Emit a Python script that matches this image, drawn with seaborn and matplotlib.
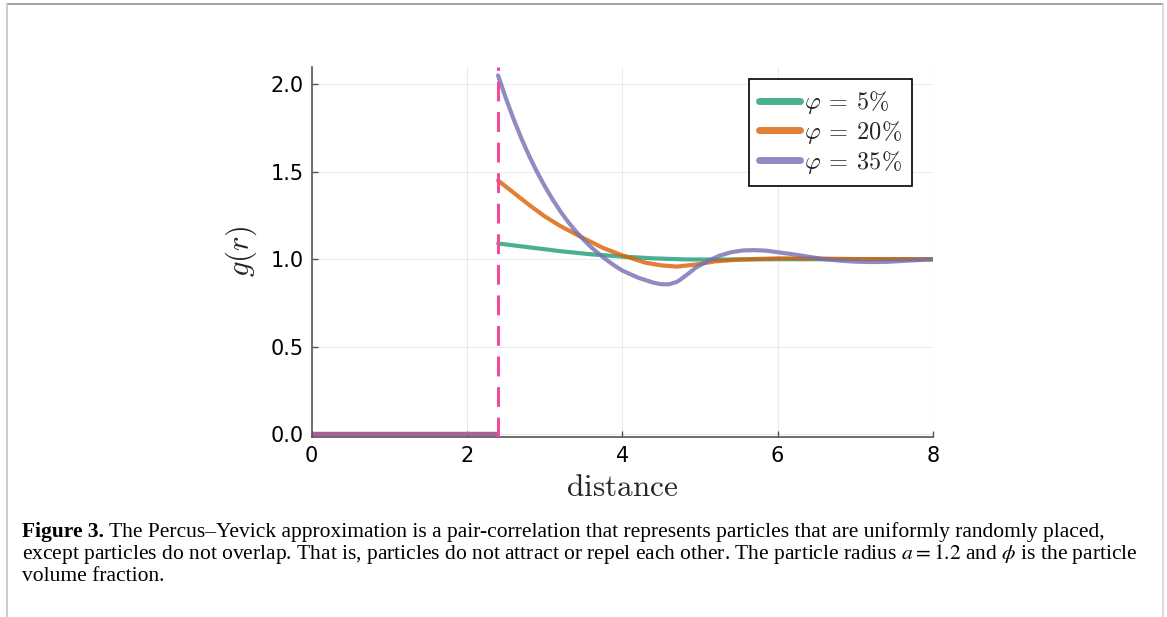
import numpy as np
import pandas as pd
import matplotlib
matplotlib.use("Agg")
import matplotlib.pyplot as plt
import seaborn as sns
from matplotlib.lines import Line2D

# ---------------- data ----------------
contact = 2.4  # 2a, a = 1.2
r_zero = [0.0, 2.4]
g_zero = [0.0, 0.0]

r_5 = [2.4, 2.8, 3.2, 3.6, 4.0, 4.4, 4.8, 5.2, 6.0, 7.0, 8.0]
g_5 = [1.09, 1.068, 1.046, 1.028, 1.015, 1.005, 0.999, 0.998, 1.0, 1.0, 1.0]

r_20 = [2.4, 2.6, 2.8, 3.0, 3.2, 3.5, 3.75, 4.0, 4.3, 4.5, 4.7, 4.95, 5.2, 5.5,
        6.0, 6.5, 7.0, 8.0]
g_20 = [1.45, 1.38, 1.31, 1.245, 1.19, 1.12, 1.065, 1.022, 0.98, 0.965, 0.958,
        0.97, 0.988, 0.998, 1.005, 1.004, 1.001, 1.0]

r_35 = [2.4, 2.5, 2.6, 2.7, 2.8, 2.9, 3.0, 3.1, 3.2, 3.3, 3.4, 3.5, 3.6, 3.7,
        3.8, 3.9, 4.0, 4.2, 4.4, 4.5, 4.6, 4.7, 4.75, 4.85, 4.95, 5.1, 5.25,
        5.4, 5.55, 5.7, 5.85, 6.0, 6.2, 6.4, 6.6, 6.8, 7.0, 7.2, 7.4, 7.6, 7.8,
        8.0]
g_35 = [2.05, 1.92, 1.80, 1.69, 1.59, 1.50, 1.418, 1.343, 1.275, 1.214, 1.16,
        1.112, 1.068, 1.03, 0.995, 0.963, 0.935, 0.895, 0.866, 0.857, 0.857,
        0.87, 0.884, 0.918, 0.953, 0.99, 1.02, 1.04, 1.05, 1.052, 1.049, 1.04,
        1.028, 1.014, 1.0, 0.992, 0.986, 0.984, 0.985, 0.99, 0.995, 1.0]

labels = [r"$\varphi \:=\: 5\%$", r"$\varphi \:=\: 20\%$", r"$\varphi \:=\: 35\%$"]
x_ticks = [0, 2, 4, 6, 8]
y_ticks = [0.0, 0.5, 1.0, 1.5, 2.0]

caption_bold = "Figure 3."
caption_l1 = (" The Percus\u2013Yevick approximation is a pair-correlation that "
              "represents particles that are uniformly randomly placed,")
caption_l2 = (r"except particles do not overlap. That is, particles do not attract "
              r"or repel each other. The particle radius $a = 1.2$ and $\phi$ is the particle")
caption_l3 = "volume fraction."

# ---------------- style ----------------
sns.set_theme(style="white")
plt.rcParams["font.family"] = ["DejaVu Sans"]

pal = sns.color_palette("Dark2", 4)
colors = [pal[0], pal[1], pal[2]]
pink = "#ef4c9e"

W, H = 1167, 617
fig = plt.figure(figsize=(W / 100, H / 100), dpi=100)
ax = fig.add_axes([311.7 / W, 1 - 436.7 / H, (933 - 311.7) / W, (436.7 - 66.7) / H])

series = [(r_5, g_5), (r_20, g_20), (r_35, g_35)]
for (rr, gg), c, lab in zip(series, colors, labels):
    sns.lineplot(x=rr, y=gg, ax=ax, color=c, lw=3, alpha=0.8, label=lab,
                 sort=False, estimator=None)
# zero region (all three curves coincide)
for c in colors:
    sns.lineplot(x=r_zero, y=g_zero, ax=ax, color=c, lw=3, alpha=0.8,
                 sort=False, estimator=None, legend=False)
sns.lineplot(x=r_zero, y=g_zero, ax=ax, color=pink, lw=3, alpha=0.35,
             sort=False, estimator=None, legend=False)
ax.axvline(contact, color=pink, lw=2.2, dashes=(6.5, 3.5), zorder=3)

ax.set_xlim(0, 8)
ax.set_ylim(-0.014, 2.10)
ax.set_xticks(x_ticks)
ax.set_xticklabels([str(t) for t in x_ticks])
ax.set_yticks(y_ticks)
ax.set_yticklabels([f"{t:.1f}" for t in y_ticks])
ax.grid(True, color="#000000", alpha=0.08, lw=0.8)
for s in ["top", "right"]:
    ax.spines[s].set_visible(False)
for s in ["left", "bottom"]:
    ax.spines[s].set_color("#555555")
    ax.spines[s].set_linewidth(1.2)
ax.tick_params(axis="both", direction="in", length=4, width=1, color="#555555",
               labelsize=15, labelcolor="black", left=True, bottom=True)
ax.tick_params(axis="x", pad=7)
ax.tick_params(axis="y", pad=6)

ax.set_xlabel(r"$\mathrm{distance}$", fontsize=22.5, math_fontfamily="cm", labelpad=5)
ax.set_ylabel(r"$g(r)$", fontsize=22, math_fontfamily="cm", labelpad=8)

leg = ax.legend(loc="upper right", bbox_to_anchor=(911.7 / W, 1 - 79.3 / H),
                bbox_transform=fig.transFigure, fontsize=17.5, frameon=True,
                fancybox=False, edgecolor="black", framealpha=1,
                handlelength=1.7, handletextpad=0.15, labelspacing=0.12,
                borderpad=0.4, borderaxespad=0)
leg.get_frame().set_linewidth(1.2)
for t in leg.get_texts():
    t.set_math_fontfamily("cm")
for ln in leg.get_lines():
    ln.set_linewidth(5)
    ln.set_solid_capstyle("round")

# ---------------- page frame ----------------
fig.add_artist(Line2D([7 / W, 1163 / W], [1 - 4 / H, 1 - 4 / H], color="#999999", lw=1.3))
fig.add_artist(Line2D([7 / W, 7 / W], [0, 1 - 4 / H], color="#c8c8c8", lw=1.3))
fig.add_artist(Line2D([1163 / W, 1163 / W], [0, 1 - 4 / H], color="#d8d8d8", lw=1.3))

# ---------------- caption ----------------
renderer = fig.canvas.get_renderer()
x0 = 22 / W


def caption_kw(size):
    return dict(fontsize=size, family=["Liberation Serif"], color="black",
                math_fontfamily="stix", va="baseline", ha="left")


# size the caption so the first line spans the same width as in the reference
size = 13.2
tb = fig.text(x0, 1 - 537 / H, caption_bold, fontweight="bold", **caption_kw(size))
tr = fig.text(0, 1 - 537 / H, caption_l1, **caption_kw(size))
w_now = tb.get_window_extent(renderer).width + tr.get_window_extent(renderer).width
size = size * (1107 - 22) / w_now
tb.set_fontsize(size)
tr.set_fontsize(size)
bb = tb.get_window_extent(renderer)
tr.set_x(bb.x1 / W)
fig.text(x0, 1 - 559 / H, caption_l2, **caption_kw(size))
fig.text(x0, 1 - 581 / H, caption_l3, **caption_kw(size))

fig.savefig("out.png", dpi=100)
